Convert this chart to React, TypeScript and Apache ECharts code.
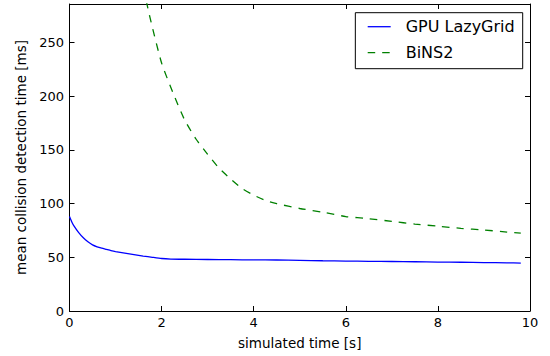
import React, { useEffect, useRef } from "react";
import * as echarts from "echarts";

const xTicks = [0, 2, 4, 6, 8, 10];
const yTicks = [0, 50, 100, 150, 200, 250];

const lazyGridTime = [0, 0.05, 0.1, 0.2, 0.3, 0.4, 0.5, 0.6, 0.7, 0.8, 0.9, 1.0, 1.2, 1.4, 1.6, 1.8, 2.0, 2.2, 2.5, 3.0, 3.5, 4.0, 4.5, 5.0, 5.5, 6.0, 6.5, 7.0, 7.5, 8.0, 8.5, 9.0, 9.5, 9.8];
const lazyGridValues = [88, 83, 79, 73, 68.2, 64.5, 61.6, 59.8, 58.5, 57.4, 56.3, 55.4, 54, 52.6, 51.2, 50, 48.9, 48.4, 48.2, 48, 47.8, 47.6, 47.5, 47.2, 46.8, 46.5, 46.3, 46.1, 45.9, 45.6, 45.4, 45.1, 44.9, 44.6];

const binsTime = [1.6, 1.75, 2.0, 2.25, 2.5, 2.75, 3.0, 3.25, 3.5, 3.75, 4.0, 4.25, 4.5, 5.0, 5.5, 6.0, 6.5, 7.0, 7.5, 8.0, 8.5, 9.0, 9.5, 9.8];
const binsValues = [302, 273, 231, 203, 178, 160, 146, 133, 123, 114, 108, 103, 100, 95.5, 92, 88, 86, 83.5, 81, 79, 77, 75.5, 73.5, 72.5];

const FONT = "DejaVu Sans";

export default function App() {
  const ref = useRef<HTMLDivElement>(null);
  useEffect(() => {
    if (!ref.current) return;
    const chart = echarts.init(ref.current, null, { renderer: "svg" });
    const axisCommon = {
      axisLine: { show: true, onZero: false, lineStyle: { color: "#000", width: 1 } },
      axisTick: { show: true, inside: true, length: 5, lineStyle: { color: "#000" } },
      splitLine: { show: false },
    };
    chart.setOption({
      animation: false,
      backgroundColor: "#fff",
      textStyle: { fontFamily: FONT },
      grid: { left: 69.5, right: 20, top: 4, bottom: 45, show: false },
      legend: {
        right: 27.3,
        top: 12.7,
        orient: "vertical",
        backgroundColor: "#fff",
        borderColor: "#000",
        borderWidth: 1,
        borderRadius: 0,
        padding: [5, 8, 7, 11.7],
        itemGap: 8,
        itemWidth: 23,
        itemHeight: 14,
        itemStyle: { opacity: 0 },
        lineStyle: { width: 1.3 },
        textStyle: { fontFamily: FONT, fontSize: 16, color: "#000", lineHeight: 18, padding: [0, 0, 0, 10] },
        data: ["GPU LazyGrid", "BiNS2"],
      },
      xAxis: [
        {
          type: "value",
          min: 0,
          max: 10,
          interval: 2,
          ...axisCommon,
          axisLabel: { color: "#000", fontSize: 13, fontFamily: FONT, margin: 5 },
          name: "simulated time [s]",
          nameLocation: "middle",
          nameGap: 25,
          nameTextStyle: { color: "#000", fontSize: 13.5, fontFamily: FONT },
          data: xTicks,
        },
        {
          type: "value",
          position: "top",
          min: 0,
          max: 10,
          interval: 2,
          ...axisCommon,
          axisLabel: { show: false },
        },
      ],
      yAxis: [
        {
          type: "value",
          min: 0,
          max: 286,
          interval: 50,
          ...axisCommon,
          axisLabel: {
            color: "#000",
            fontSize: 13,
            fontFamily: FONT,
            margin: 5.5,
            showMaxLabel: false,
            formatter: (v: number) => (yTicks.includes(v) ? String(v) : ""),
          },
          name: "mean collision detection time [ms]",
          nameLocation: "middle",
          nameGap: 40,
          nameTextStyle: { color: "#000", fontSize: 13.5, fontFamily: FONT },
        },
        {
          type: "value",
          position: "right",
          min: 0,
          max: 286,
          interval: 50,
          ...axisCommon,
          axisLabel: { show: false },
        },
      ],
      series: [
        {
          name: "GPU LazyGrid",
          type: "line",
          data: lazyGridTime.map((t, i) => [t, lazyGridValues[i]]),
          showSymbol: false,
          symbol: "none",
          smooth: 0.2,
          lineStyle: { color: "#0000ff", width: 1.3 },
          itemStyle: { color: "#0000ff" },
        },
        {
          name: "BiNS2",
          type: "line",
          data: binsTime.map((t, i) => [t, binsValues[i]]),
          showSymbol: false,
          symbol: "none",
          smooth: 0.2,
          clip: true,
          lineStyle: { color: "#008000", width: 1.3, type: [7.5, 7] },
          itemStyle: { color: "#008000" },
        },
      ],
    });
    return () => chart.dispose();
  }, []);
  return <div ref={ref} style={{ width: 550, height: 356, position: "absolute", left: 0, top: 0 }} />;
}
